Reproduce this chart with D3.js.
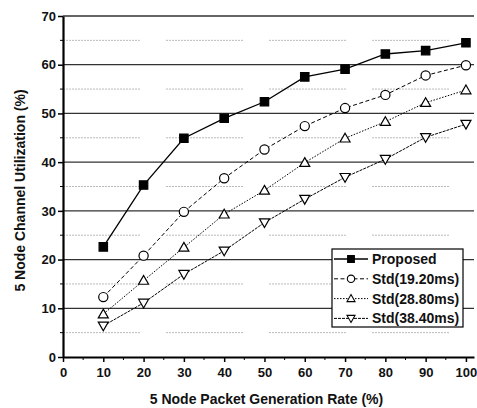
<!DOCTYPE html>
<html>
<head>
<meta charset="utf-8">
<script src="https://cdn.jsdelivr.net/npm/d3@7"></script>
<style>
  body { margin: 0; background: #fff; }
  svg { display: block; font-family: "Liberation Sans", Arial, sans-serif; }
</style>
</head>
<body>
<div id="chart"></div>
<script>
// packet generation rate (%)
const rates = [10, 20, 30, 40, 50, 60, 70, 80, 90, 100]
const seriesNames = ["Proposed", "Std(19.20ms)", "Std(28.80ms)", "Std(38.40ms)"]
const proposed = [22.6, 35.3, 44.9, 49.0, 52.4, 57.5, 59.1, 62.2, 62.9, 64.5]
const std1920 = [12.3, 20.8, 29.8, 36.7, 42.6, 47.4, 51.1, 53.8, 57.8, 59.9]
const std2880 = [8.8, 15.7, 22.5, 29.3, 34.2, 39.9, 44.9, 48.3, 52.2, 54.8]
const std3840 = [6.4, 11.1, 17.0, 21.8, 27.6, 32.4, 36.9, 40.6, 45.1, 47.8]
const xTicks = [0, 10, 20, 30, 40, 50, 60, 70, 80, 90, 100]
const yTicks = [0, 10, 20, 30, 40, 50, 60, 70]

drawChart()

function drawChart() {
    const W = 477, H = 408
    const margin = { top: 16, right: 3, bottom: 51, left: 63 }
    const width = W - margin.left - margin.right
    const height = H - margin.top - margin.bottom

    const svg = d3.select("#chart").append("svg")
        .attr("width", W)
        .attr("height", H)
    const g = svg.append("g")
        .attr("transform", `translate(${margin.left},${margin.top})`)

    const x = d3.scaleLinear().domain([0, 102]).range([0, width])
    const y = d3.scaleLinear().domain([0, 70]).range([height, 0])

    // minor grid lines (5, 15, ...)
    g.append("g").selectAll("line")
        .data(d3.range(5, 70, 10))
        .enter().append("line")
        .attr("x1", 0).attr("x2", width)
        .attr("y1", d => y(d)).attr("y2", d => y(d))
        .attr("stroke", "#bbb")
        .attr("stroke-width", 1)
        .attr("stroke-dasharray", "2,1,2,1,2,1,2,1,2,1,2,1,2,1,2,1,2,1,2,1,2,1,2,1,2,1,2,1,2,1,2,1,2,1,2,1,2,1,2,1,2,1,2,1,2,1,2,1,2,1,2,26")

    // major grid lines
    g.append("g").selectAll("line")
        .data(yTicks.filter(d => d > 0))
        .enter().append("line")
        .attr("x1", 0).attr("x2", width)
        .attr("y1", d => y(d)).attr("y2", d => y(d))
        .attr("stroke", "#333")
        .attr("stroke-width", d => d === 70 ? 1.6 : 1.2)

    // axes
    const xAxis = g.append("g")
        .attr("transform", `translate(0,${height})`)
        .call(d3.axisBottom(x).tickValues(xTicks).tickSize(5).tickSizeOuter(0))
    const yAxis = g.append("g")
        .call(d3.axisLeft(y).tickValues(yTicks).tickSize(5).tickSizeOuter(0))

    // minor ticks
    xAxis.selectAll(".minor").data(d3.range(5, 100, 10)).enter().append("line")
        .attr("x1", d => x(d)).attr("x2", d => x(d))
        .attr("y1", 0).attr("y2", 3)
        .attr("stroke", "#000")
    yAxis.selectAll(".minor").data(d3.range(5, 70, 10)).enter().append("line")
        .attr("y1", d => y(d)).attr("y2", d => y(d))
        .attr("x1", 0).attr("x2", -3)
        .attr("stroke", "#000")

    ;[xAxis, yAxis].forEach(a => {
        a.select(".domain").attr("stroke", "#000").attr("stroke-width", 2.2)
        a.selectAll(".tick line").attr("stroke", "#000").attr("stroke-width", 1.5)
        a.selectAll("text")
            .attr("fill", "#111")
            .style("font-size", "13px")
            .style("font-weight", "bold")
            .style("font-family", "'Liberation Sans', Arial, sans-serif")
    })
    xAxis.selectAll("text").attr("dy", "0.95em").attr("y", 8)
    yAxis.selectAll("text").attr("x", -7)

    // axis titles
    svg.append("text")
        .attr("x", margin.left + x(50) + 2)
        .attr("y", 404)
        .attr("text-anchor", "middle")
        .style("font-size", "14px")
        .style("font-weight", "bold")
        .attr("fill", "#111")
        .text("5 Node Packet Generation Rate (%)")
    svg.append("text")
        .attr("transform", `translate(25,${margin.top + y(35) + 4}) rotate(-90)`)
        .attr("text-anchor", "middle")
        .style("font-size", "14px")
        .style("font-weight", "bold")
        .attr("fill", "#111")
        .text("5 Node Channel Utilization (%)")

    const series = [
        { name: seriesNames[0], values: proposed, dash: null, symbol: "square", fill: "#000" },
        { name: seriesNames[1], values: std1920, dash: "4,2.5", symbol: "circle", fill: "#fff" },
        { name: seriesNames[2], values: std2880, dash: "1.5,1.5", symbol: "up", fill: "#fff" },
        { name: seriesNames[3], values: std3840, dash: "3,1", symbol: "down", fill: "#fff" }
    ]

    const line = d3.line().x(d => x(d[0])).y(d => y(d[1]))

    series.forEach(s => {
        const pts = rates.map((r, i) => [r, s.values[i]])
        g.append("path")
            .datum(pts)
            .attr("d", line)
            .attr("fill", "none")
            .attr("stroke", "#000")
            .attr("stroke-width", s.dash ? 1 : 1.3)
            .attr("stroke-dasharray", s.dash)
        g.selectAll(null).data(pts).enter().append("path")
            .attr("transform", d => `translate(${x(d[0])},${y(d[1])})`)
            .attr("d", symbolPath(s.symbol))
            .attr("fill", s.fill)
            .attr("stroke", "#000")
            .attr("stroke-width", 1.2)
    })

    // legend
    const lg = svg.append("g").attr("transform", "translate(332,249)")
    lg.append("rect")
        .attr("width", 131).attr("height", 78)
        .attr("fill", "#fff")
        .attr("stroke", "#000")
        .attr("stroke-width", 1.2)
    series.forEach((s, i) => {
        const row = lg.append("g").attr("transform", `translate(0,${10 + i * 19.8})`)
        row.append("line")
            .attr("x1", 2).attr("x2", 36)
            .attr("stroke", "#000")
            .attr("stroke-width", s.dash ? 1 : 1.3)
            .attr("stroke-dasharray", s.dash)
        row.append("path")
            .attr("transform", "translate(19,0)")
            .attr("d", symbolPath(s.symbol, 0.8))
            .attr("fill", s.fill)
            .attr("stroke", "#000")
            .attr("stroke-width", 1.1)
        row.append("text")
            .attr("x", 40).attr("y", 5)
            .style("font-size", "14px")
            .style("font-weight", "bold")
            .attr("fill", "#111")
            .text(s.name)
    })
}

// marker shapes drawn around (0,0)
function symbolPath(kind, k = 1) {
    const p = d3.path()
    if (kind === "square") {
        const h = 4.2 * k
        p.rect(-h, -h, 2 * h, 2 * h)
    } else if (kind === "circle") {
        const r = 4.6 * k
        p.arc(0, 0, r, 0, 2 * Math.PI)
    } else if (kind === "up") {
        const h = 5 * k
        p.moveTo(0, -h); p.lineTo(h, h * 0.75); p.lineTo(-h, h * 0.75); p.closePath()
    } else {
        const h = 5 * k
        p.moveTo(0, h); p.lineTo(h, -h * 0.75); p.lineTo(-h, -h * 0.75); p.closePath()
    }
    return p.toString()
}
</script>
</body>
</html>
